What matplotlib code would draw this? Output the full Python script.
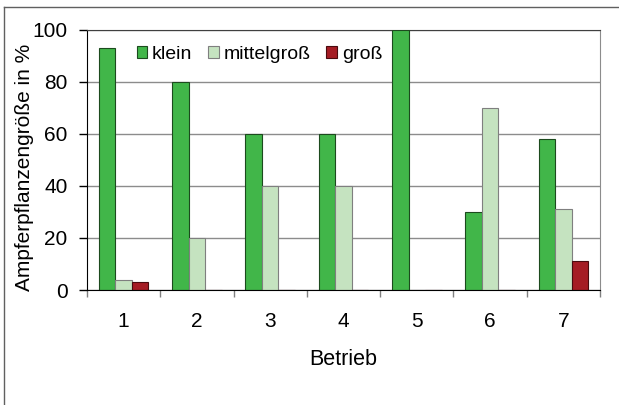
# Ampferpflanzengröße je Betrieb - gruppiertes Säulendiagramm

import numpy as np
import matplotlib
matplotlib.use('Agg')
import matplotlib.pyplot as plt
from matplotlib.lines import Line2D

plt.rcParams['font.family'] = ['Liberation Sans', 'DejaVu Sans']

betriebe = ['1', '2', '3', '4', '5', '6', '7']
klein = [93, 80, 60, 60, 100, 30, 58]
mittelgross = [4, 20, 40, 40, 0, 70, 31]
gross = [3, 0, 0, 0, 0, 0, 11]

serien = ['klein', 'mittelgroß', 'groß']
farben = ['#41b649', '#c5e3c0', '#a51c24']
kanten = ['#1c4a1e', '#7f7f7f', '#4a0a0e']

fig = plt.figure(figsize=(6.19, 4.05), dpi=100)
ax = fig.add_axes([87/619, 1 - 290/405, 513/619, 260.5/405])

x = np.arange(1, len(betriebe) + 1)
w = 0.225
for i, (werte, fc, ec, name) in enumerate(zip([klein, mittelgross, gross], farben, kanten, serien)):
	ax.bar(x + (i - 1) * w, werte, w, color=fc, edgecolor=ec, linewidth=0.8, label=name, zorder=3)

ax.set_xlim(0.5, 7.5)
ax.set_ylim(0, 100)
ax.set_yticks([0, 20, 40, 60, 80, 100])
ax.set_xticks(x)
ax.set_xticklabels(betriebe)
ax.set_xticks(np.arange(0.5, 8, 1), minor=True)
ax.tick_params(axis='x', which='major', length=0, pad=16, labelsize=15)
ax.tick_params(axis='x', which='minor', length=5, width=1, color='#808080', direction='out')
ax.tick_params(axis='y', length=6, width=1, direction='out', labelsize=15, pad=8)
ax.yaxis.grid(True, color='#8c8c8c', linewidth=1, zorder=0)

ax.spines['left'].set_color('black')
ax.spines['bottom'].set_color('black')
ax.spines['bottom'].set_zorder(4)
ax.spines['top'].set_color('#404040')
ax.spines['right'].set_color('#8c8c8c')

ax.set_xlabel('Betrieb', fontsize=15.5, labelpad=13)
ax.set_ylabel('Ampferpflanzengröße in %', fontsize=15)
ax.yaxis.set_label_coords(-0.103, 0.472)

ax.legend(loc='upper left', bbox_to_anchor=(0.07, 0.99), ncol=3, frameon=False,
	fontsize=14, handlelength=0.55, handleheight=0.55, handletextpad=0.25,
	columnspacing=0.8, borderaxespad=0.3)

# Rahmen um das Diagramm
fig.add_artist(Line2D([4/619, 4/619], [0, 1 - 7/405], transform=fig.transFigure, color='#606060', lw=1))
fig.add_artist(Line2D([4/619, 1], [1 - 7/405, 1 - 7/405], transform=fig.transFigure, color='#606060', lw=1))

plt.savefig('out.png', dpi=100)
